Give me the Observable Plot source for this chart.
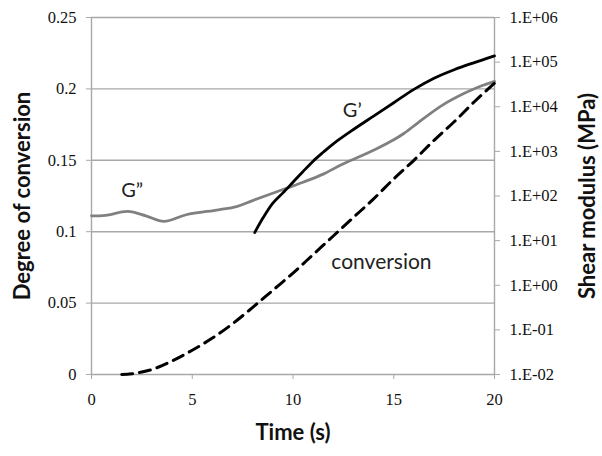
<!DOCTYPE html>
<html><head><meta charset="utf-8">
<script src="https://cdn.jsdelivr.net/npm/d3@7"></script>
<script src="https://cdn.jsdelivr.net/npm/@observablehq/plot@0.6"></script>
<style>body{margin:0;background:#fff}</style>
</head><body><div id="chart"></div>
<script>
// Degree of conversion (left axis)
const convTime  = [1.5, 2, 3, 4, 5, 6, 7, 8, 9, 10, 11, 12, 13, 14, 15, 16, 17, 18, 19, 20];
const convValue = [0, 0.0005, 0.0035, 0.0095, 0.017, 0.0255, 0.0355, 0.047, 0.059, 0.071, 0.084, 0.097, 0.110, 0.123, 0.137, 0.150, 0.164, 0.177, 0.191, 0.204];
// G'' loss modulus, MPa (right log axis)
const gppTime  = [0, 0.7, 1.8, 2.7, 3.6, 4.7, 6.3, 7.2, 8.0, 9.6, 10.5, 11.5, 12.4, 13.4, 14.2, 15.0, 15.5, 16.2, 17.4, 18.5, 19.3, 20];
const gppValue = [36, 37, 45, 36, 27, 38, 49, 58, 79, 145, 204, 309, 501, 794, 1175, 1820, 2512, 4365, 10715, 19953, 28840, 37154];
// G' storage modulus, MPa (right log axis)
const gpTime  = [8.1, 8.5, 9.0, 9.5, 10, 10.5, 11, 11.5, 12, 13, 14, 15, 16, 17, 18, 19, 20];
const gpValue = [15.1, 31.6, 69.2, 117.5, 204, 355, 603, 955, 1479, 3090, 6166, 12300, 24550, 43650, 67600, 97700, 138000];

const xTicks = [0, 5, 10, 15, 20];
const leftTicks = [0, 0.05, 0.1, 0.15, 0.2, 0.25];
const rightTicks = [1e-2, 1e-1, 1e0, 1e1, 1e2, 1e3, 1e4, 1e5, 1e6];

const mod = d3.scaleLog().domain([1e-2, 1e6]).range([0, 0.25]);
const fmtE = v => { const e = Math.round(Math.log10(v)); return "1.E" + (e < 0 ? "-" : "+") + String(Math.abs(e)).padStart(2, "0"); };

const conv = convTime.map((t, i) => ({t, v: convValue[i]}));
const gpp = gppTime.map((t, i) => ({t, g: gppValue[i]}));
const gp = gpTime.map((t, i) => ({t, g: gpValue[i]}));

const gridC = "#a8a8a8";
const sansB = "Lato";

const chart = Plot.plot({
  width: 602, height: 456,
  marginTop: 17, marginBottom: 82, marginLeft: 91, marginRight: 108,
  style: {fontFamily: "Liberation Serif", fontSize: "16.5px", color: "#111", background: "#fff"},
  x: {domain: [0, 20]},
  y: {domain: [0, 0.25]},
  marks: [
    Plot.gridY(leftTicks.slice(1), {stroke: gridC, strokeOpacity: 1, strokeWidth: 1.4}),
    Plot.ruleX([0, 20], {stroke: gridC, strokeWidth: 1.4}),
    Plot.ruleY([0], {stroke: gridC, strokeWidth: 1.4}),
    Plot.axisY(leftTicks, {anchor: "left", tickSize: 5, tickPadding: 10, stroke: gridC, fill: "#111", tickFormat: d => String(d), label: null}),
    Plot.axisY(rightTicks.map(v => mod(v)), {anchor: "right", tickSize: 5, tickPadding: 10, stroke: gridC, fill: "#111", tickFormat: d => fmtE(mod.invert(d)), label: null}),
    Plot.axisX(xTicks, {tickSize: 5, tickPadding: 14, stroke: gridC, fill: "#111", label: null}),
    Plot.line(gpp, {x: "t", y: d => mod(d.g), stroke: "#808080", strokeWidth: 2.8, curve: "catmull-rom"}),
    Plot.line(gp, {x: "t", y: d => mod(d.g), stroke: "#000", strokeWidth: 2.8, curve: "catmull-rom"}),
    Plot.line(conv, {x: "t", y: "v", stroke: "#000", strokeWidth: 3, strokeDasharray: "11,7", curve: "catmull-rom"}),
    Plot.text(["G\u201D"], {x: 2.02, y: 0.1286, text: d => d, fontFamily: sansB, fontSize: 20, fill: "#222"}),
    Plot.text(["G\u2019"], {x: 12.94, y: 0.1847, text: d => d, fontFamily: sansB, fontSize: 20, fill: "#222"}),
    Plot.text(["conversion"], {x: 14.39, y: 0.0784, text: d => d, fontFamily: sansB, fontSize: 21, fill: "#222"}),
    Plot.text(["Degree of conversion"], {frameAnchor: "left", textAnchor: "middle", dx: -69, rotate: -90, text: d => d, fontFamily: sansB, fontWeight: "bold", fontSize: 22, fill: "#111"}),
    Plot.text(["Shear modulus (MPa)"], {frameAnchor: "right", textAnchor: "middle", dx: 93, rotate: -90, text: d => d, fontFamily: sansB, fontWeight: "bold", fontSize: 22, fill: "#111"}),
    Plot.text(["Time (s)"], {frameAnchor: "bottom", dy: 65, text: d => d, fontFamily: sansB, fontWeight: "bold", fontSize: 22, fill: "#111"})
  ]
});
document.getElementById("chart").append(chart);
</script></body></html>
